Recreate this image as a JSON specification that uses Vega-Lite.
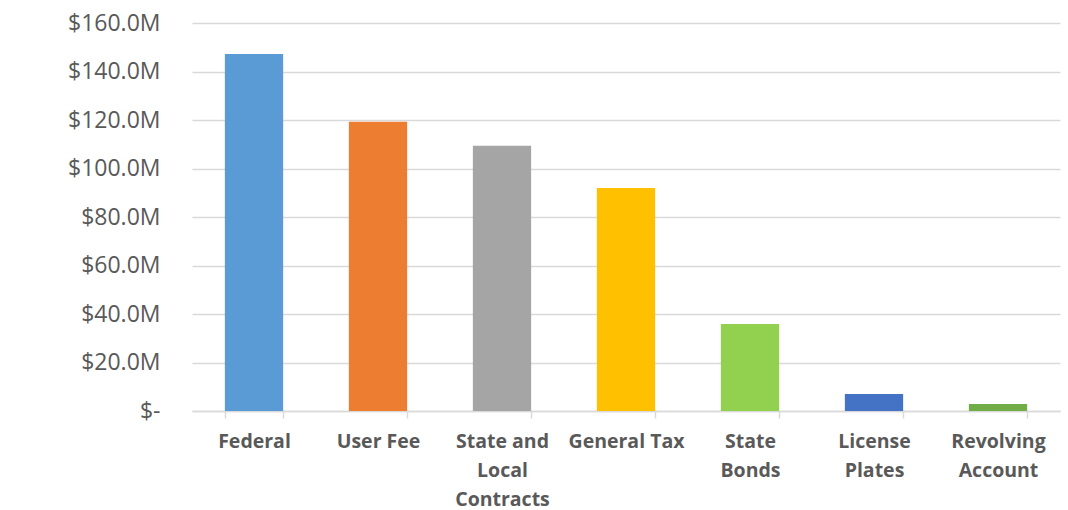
{
  "$schema": "https://vega.github.io/schema/vega-lite/v6.json",
  "width": 868,
  "height": 388,
  "autosize": "none",
  "padding": {"left": 192, "top": 23, "right": 8, "bottom": 99},
  "background": "white",
  "data": {
    "values": [
      {"source": "Federal", "amount": 147.2, "color": "#5B9BD5"},
      {"source": "User Fee", "amount": 119.3, "color": "#ED7D31"},
      {"source": "State and|Local|Contracts", "amount": 109.4, "color": "#A5A5A5"},
      {"source": "General Tax", "amount": 92.0, "color": "#FFC000"},
      {"source": "State|Bonds", "amount": 35.9, "color": "#92D050"},
      {"source": "License|Plates", "amount": 7.0, "color": "#4472C4"},
      {"source": "Revolving|Account", "amount": 2.9, "color": "#70AD47"}
    ]
  },
  "config": {
    "view": {"stroke": null},
    "font": "Open Sans"
  },
  "mark": {"type": "bar"},
  "encoding": {
    "x": {
      "field": "source",
      "type": "nominal",
      "sort": null,
      "scale": {"paddingInner": 0.53, "paddingOuter": 0.265},
      "axis": {
        "title": null,
        "labelAngle": 0,
        "labelExpr": "split(datum.label, '|')",
        "labelFont": "Open Sans",
        "labelFontWeight": "bold",
        "labelFontSize": 19.5,
        "labelColor": "#595959",
        "labelLineHeight": 29,
        "labelPadding": 14,
        "tickBand": "extent",
        "tickSize": 7,
        "tickColor": "#D9D9D9",
        "tickWidth": 1.5,
        "domainColor": "#D9D9D9",
        "domainWidth": 1.5,
        "grid": false
      }
    },
    "y": {
      "field": "amount",
      "type": "quantitative",
      "scale": {"domain": [0, 160], "nice": false},
      "axis": {
        "title": null,
        "values": [0, 20, 40, 60, 80, 100, 120, 140, 160],
        "labelExpr": "datum.value == 0 ? '$-' : '$' + format(datum.value, '.1f') + 'M'",
        "labelFont": "Open Sans",
        "labelFontSize": 23,
        "labelColor": "#595959",
        "labelPadding": 32,
        "ticks": false,
        "domain": false,
        "gridColor": "#D9D9D9",
        "gridWidth": 1.5
      }
    },
    "color": {"field": "color", "type": "nominal", "scale": null, "legend": null}
  }
}
